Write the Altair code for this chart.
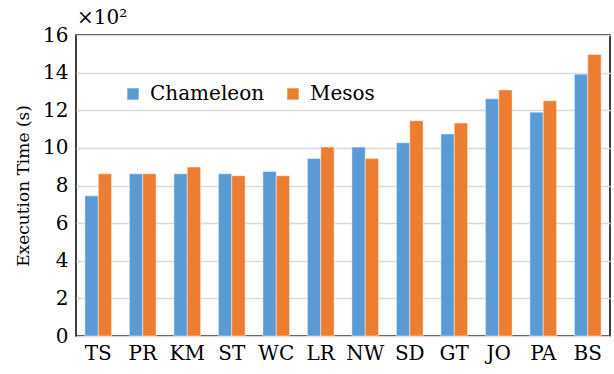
import altair as alt
import pandas as pd

# Workloads and their execution times (in hundreds of seconds)
workloads = ["TS", "PR", "KM", "ST", "WC", "LR", "NW", "SD", "GT", "JO", "PA", "BS"]
chameleon = [7.45, 8.62, 8.62, 8.62, 8.74, 9.43, 10.04, 10.27, 10.74, 12.61, 11.9, 13.92]
mesos = [8.62, 8.62, 8.98, 8.52, 8.52, 10.04, 9.43, 11.44, 11.32, 13.08, 12.5, 14.97]
systems = ["Chameleon", "Mesos"]
colors = ["#5B9BD5", "#ED7D31"]
scale_note = ["×10²"]

rows = []
for i, w in enumerate(workloads):
    rows.append({"workload": w, "system": systems[0], "time": chameleon[i]})
    rows.append({"workload": w, "system": systems[1], "time": mesos[i]})
df = pd.DataFrame(rows)

FONT = "DejaVu Serif"
FS = 20

bars = (
    alt.Chart(df)
    .mark_bar(stroke="#ffffff", strokeOpacity=0.45, strokeWidth=1)
    .encode(
        x=alt.X(
            "workload:N",
            sort=workloads,
            scale=alt.Scale(paddingInner=0.4, paddingOuter=0.2),
            axis=alt.Axis(title=None, labelAngle=0, labelPadding=7),
        ),
        xOffset=alt.XOffset("system:N", sort=systems),
        y=alt.Y(
            "time:Q",
            scale=alt.Scale(domain=[0, 16], nice=False),
            axis=alt.Axis(
                title="Execution Time (s)",
                values=list(range(0, 17, 2)),
                grid=True,
                labelPadding=8,
                titlePadding=10,
            ),
        ),
        color=alt.Color(
            "system:N",
            sort=systems,
            scale=alt.Scale(domain=systems, range=colors),
            legend=alt.Legend(
                title=None,
                orient="none",
                direction="horizontal",
                legendX=47,
                legendY=49,
                symbolType="square",
                symbolSize=130,
                symbolStrokeWidth=0,
                columnPadding=18,
                labelOffset=7,
            ),
        ),
    )
)

# Multiplier note above the top-left corner of the plot
note = (
    alt.Chart(pd.DataFrame({"t": scale_note}))
    .mark_text(align="left", baseline="alphabetic", font=FONT, fontSize=FS, color="#000000")
    .encode(x=alt.value(1), y=alt.value(-11), text="t:N")
)

chart = (
    alt.layer(bars, note)
    .properties(
        width=534,
        height=301,
        autosize=alt.AutoSizeParams(type="none"),
        padding={"left": 76, "top": 35, "right": 4, "bottom": 38},
    )
    .configure(background="#ffffff", font=FONT)
    .configure_view(stroke="#000000", strokeWidth=1.5)
    .configure_axis(
        labelFont=FONT,
        labelFontSize=FS,
        labelColor="#000000",
        titleFont=FONT,
        titleFontSize=17,
        titleFontWeight="normal",
        titleColor="#000000",
        ticks=False,
        domain=False,
        gridColor="#d9d9d9",
        gridWidth=1.5,
    )
    .configure_legend(labelFont=FONT, labelFontSize=FS, labelColor="#000000")
)

chart.save("out.html", embed_options={"renderer": "svg", "actions": False})
